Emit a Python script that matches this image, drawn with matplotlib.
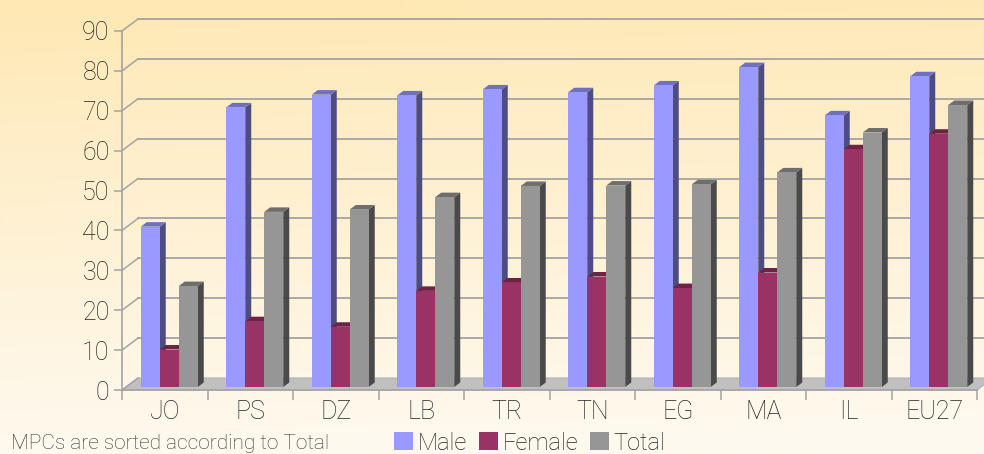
import numpy as np
import matplotlib
matplotlib.use("Agg")
import matplotlib.pyplot as plt
from matplotlib.patches import Polygon, Rectangle, Patch
from matplotlib.lines import Line2D

# ---- data -------------------------------------------------------------
categories = ["JO", "PS", "DZ", "LB", "TR", "TN", "EG", "MA", "IL", "EU27"]
male = [40.2, 70.1, 73.3, 73.1, 74.6, 73.9, 75.6, 80.2, 68.1, 77.9]
female = [9.4, 16.5, 15.1, 24.1, 26.2, 27.7, 24.8, 28.7, 59.6, 63.5]
total = [25.3, 43.9, 44.5, 47.6, 50.4, 50.5, 50.8, 53.8, 63.8, 70.7]
series_names = ["Male", "Female", "Total"]
y_ticks = list(range(0, 91, 10))
footnote = "MPCs are sorted according to Total"

# ---- style ------------------------------------------------------------
FONT = ["Roboto", "DejaVu Sans"]
WEIGHT = "light"
TXT = "#222222"
GRID = "#a3a3a3"
front_cols = ["#9999ff", "#993366", "#969696"]
top_cols = ["#7070c0", "#6e2245", "#6e6e6e"]
side_cols = ["#4d4d80", "#5a1a38", "#4a4a4a"]

W, H = 984, 454
fig = plt.figure(figsize=(W / 100, H / 100), dpi=100)

# warm gradient background
bg = fig.add_axes([0, 0, 1, 1], zorder=-10)
bg.set_axis_off()
top_c = np.array([255, 232, 180]) / 255
bot_c = np.array([254, 249, 238]) / 255
yy = np.linspace(0, 1, 200)[:, None]
xx = np.linspace(0, 1, 300)[None, :]
t = np.clip(yy * 1.05 + (xx - 0.5) * 0.06, 0, 1)[..., None]
t = t ** 0.9
img = top_c * (1 - t) + bot_c * t
bg.imshow(img, aspect="auto", extent=[0, 1, 0, 1], origin="upper")
bg.set_xlim(0, 1)
bg.set_ylim(0, 1)

# plotting area (front plane)
x0, x1 = 122, 977
y0, y1 = 390, 31
ax = fig.add_axes([x0 / W, 1 - y0 / H, (x1 - x0) / W, (y0 - y1) / H])
ax.patch.set_alpha(0)
n = len(categories)
ax.set_xlim(0, n)
ax.set_ylim(0, 90)
px_x = (x1 - x0) / n          # pixels per category
px_y = (y0 - y1) / 90.0       # pixels per unit

DX, DY = 16 / px_x, 12 / px_y              # depth of the box
BSX, BSY = 4.5 / px_x, 3.0 / px_y          # bar plane shift
BDX, BDY = 6 / px_x, 4.5 / px_y            # bar depth
bw = 19 / px_x

# floor
ax.add_patch(Polygon([(0, 0), (n, 0), (n + DX, DY), (DX, DY)], closed=True,
                     facecolor="#c0c0c0", edgecolor="#b0b0b0", lw=0.8,
                     clip_on=False, zorder=1))

# back wall grid and left wall diagonals
for v in y_ticks[1:]:
    ax.add_line(Line2D([DX, n + DX + 1], [v + DY, v + DY], color=GRID,
                       lw=1.3, clip_on=False, zorder=1))
for v in y_ticks:
    ax.add_line(Line2D([0, DX], [v, v + DY], color=GRID, lw=1.1,
                       clip_on=False, zorder=1))

# bars with top and side faces
for i in range(n):
    for k, vals in enumerate([male, female, total]):
        v = vals[i]
        bx = i + 0.5 - 1.5 * bw + k * bw + BSX
        b = BSY
        tp = BSY + v
        ax.add_patch(Polygon([(bx + bw, b), (bx + bw + BDX, b + BDY),
                              (bx + bw + BDX, tp + BDY), (bx + bw, tp)],
                             closed=True, facecolor=side_cols[k], lw=0,
                             clip_on=False, zorder=3))
        ax.add_patch(Polygon([(bx, tp), (bx + bw, tp),
                              (bx + bw + BDX, tp + BDY), (bx + BDX, tp + BDY)],
                             closed=True, facecolor=top_cols[k], lw=0,
                             clip_on=False, zorder=3))
        ax.add_patch(Rectangle((bx, b), bw, v, facecolor=front_cols[k],
                               lw=0, clip_on=False, zorder=3))

# axes styling
for s in ["top", "right"]:
    ax.spines[s].set_visible(False)
for s in ["left", "bottom"]:
    ax.spines[s].set_color(GRID)
    ax.spines[s].set_linewidth(1.2)
ax.set_yticks(y_ticks)
ax.set_yticklabels([str(v) for v in y_ticks])
ax.tick_params(axis="y", length=6, width=1.1, color=GRID, pad=3,
               labelsize=18, labelcolor=TXT)
ax.set_xticks(range(n + 1))
ax.set_xticklabels([])
ax.set_xticks([i + 0.5 for i in range(n)], minor=True)
ax.set_xticklabels(categories, minor=True)
ax.tick_params(axis="x", which="major", length=7, width=1.1, color=GRID)
ax.tick_params(axis="x", which="minor", length=0, pad=7, labelsize=18,
               labelcolor=TXT)
for lab in ax.get_xticklabels(which="minor") + ax.get_yticklabels():
    lab.set_family(FONT)
    lab.set_fontweight(WEIGHT)

# legend
handles = [Patch(facecolor=c, edgecolor="none") for c in front_cols]
leg = fig.legend(handles, series_names, loc="center",
                 bbox_to_anchor=(530 / W, 1 - 443 / H), ncol=3, frameon=False,
                 handlelength=0.8, handleheight=0.8, handletextpad=0.2,
                 columnspacing=0.5, borderpad=0,
                 prop={"family": FONT, "size": 17, "weight": WEIGHT})
for txt in leg.get_texts():
    txt.set_color(TXT)

fig.text(11 / W, 1 - 449 / H, footnote, ha="left", va="baseline",
         family=FONT, fontsize=15, fontweight=WEIGHT, color="#333333")

fig.savefig("out.png", dpi=100)
